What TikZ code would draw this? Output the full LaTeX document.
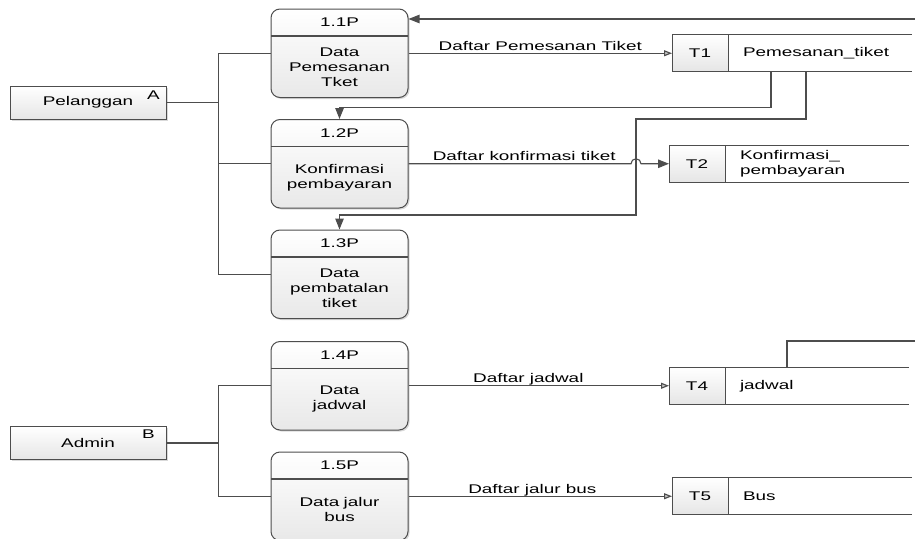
\documentclass[tikz,border=0pt]{standalone}
\usepackage{fontspec}
\setmainfont{Liberation Sans}[FakeStretch=1.5]
\usetikzlibrary{positioning,arrows.meta,fit,backgrounds,shadows,calc}
\definecolor{linegray}{RGB}{77,77,77}

\begin{document}
\begin{tikzpicture}[
        x=1pt, y=-1pt,
        font=\fontsize{12.6}{15}\selectfont,
        line/.style={
            draw=linegray,
            line width=1.1pt,
        },
        flow/.style={
            line,
            -{Triangle[length=8pt,width=6pt,fill=gray!45]},
        },
        data/.style={
            line,
            -{Triangle[length=11pt,width=8.5pt]},
        },
        entity/.style={
            rectangle,
            draw=linegray,
            line width=1pt,
            top color=white,
            bottom color=gray!20,
            minimum width=156pt,
            minimum height=33pt,
            drop shadow={shadow xshift=1.5pt, shadow yshift=-1.5pt, opacity=.3},
        },
        hdr/.style={
            minimum width=137pt,
            minimum height=27pt,
            inner sep=0pt,
            outer sep=0pt,
        },
        body/.style={
            minimum width=137pt,
            minimum height=61.5pt,
            text width=125pt,
            align=center,
            inner sep=0pt,
            outer sep=0pt,
        },
        procbox/.style={
            draw=linegray,
            line width=1pt,
            rounded corners=9pt,
            top color=white,
            bottom color=gray!18,
            inner sep=0pt,
            drop shadow={shadow xshift=1.5pt, shadow yshift=-1.5pt, opacity=.3},
        },
        storeid/.style={
            draw=linegray,
            line width=1pt,
            top color=white,
            bottom color=gray!20,
            minimum width=56pt,
            minimum height=37pt,
            inner sep=0pt,
            outer sep=0pt,
        },
        storename/.style={
            minimum height=37pt,
            text width=154pt,
            inner xsep=15pt,
            inner ysep=0pt,
            align=left,
            outer sep=0pt,
        },
        lbl/.style={
            anchor=base,
            yshift=3pt,
            inner sep=0pt,
        },
        tag/.style={
            inner sep=0pt,
        },
    ]
        \useasboundingbox (0,0) rectangle (915,538);

        % external entities
        \node [entity] (pel) at (88,102.5) {Pelanggan};
        \node [tag] (pelA) at ([xshift=-13pt,yshift=-10pt]pel.north east) {A};
        \node [entity] (adm) at (88,443) {Admin};
        \node [tag] (admB) at ([xshift=-18pt,yshift=-8pt]adm.north east) {B};

        % processes
        \node [hdr] (p11h) at (339.5,22.5) {1.1P};
        \node [body, below=0pt of p11h] (p11b) {Data\\Pemesanan\\Tket};
        \node [hdr, below=22pt of p11b] (p12h) {1.2P};
        \node [body, below=0pt of p12h] (p12b) {Konfirmasi\\pembayaran};
        \node [hdr, below=22pt of p12b] (p13h) {1.3P};
        \node [body, below=0pt of p13h] (p13b) {Data\\pembatalan\\tiket};
        \node [hdr, below=23pt of p13b] (p14h) {1.4P};
        \node [body, below=0pt of p14h] (p14b) {Data\\jadwal};
        \node [hdr, below=22pt of p14b] (p15h) {1.5P};
        \node [body, below=0pt of p15h] (p15b) {Data jalur\\bus};

        \begin{scope}[on background layer]
            \foreach \pid in {p11,p12,p13,p14,p15}
                \node [procbox, fit=(\pid h)(\pid b)] (\pid) {};
        \end{scope}
        \foreach \pid in {p11,p12,p13,p14,p15}
            \draw [line] (\pid h.south west) -- (\pid h.south east);

        % data stores
        \node [storeid, right=263.5pt of p11] (t1) {T1};
        \node [storename, right=0pt of t1] (t1n) {Pemesanan\_tiket};
        \node [storeid, right=260.5pt of p12] (t2) {T2};
        \node [storename, right=0pt of t2] (t2n) {Konfirmasi\_\\pembayaran};
        \node [storeid, right=260.5pt of p14] (t4) {T4};
        \node [storename, right=0pt of t4] (t4n) {jadwal};
        \node [storeid, right=263.5pt of p15] (t5) {T5};
        \node [storename, right=0pt of t5] (t5n) {Bus};
        \foreach \s in {t1n,t2n,t4n,t5n}
            \draw [line] (\s.north west) -- (\s.north east) (\s.south west) -- (\s.south east);

        % entities to processes
        \coordinate (pj) at ($(pel.east)!.5!(pel.east -| p11.west)$);
        \draw [line] (pel.east) -- (pj) |- (p11.west);
        \draw [line] (pj) |- (p12.west);
        \draw [line] (pj) |- (p13.west);
        \coordinate (aj) at ($(adm.east)!.5!(adm.east -| p14.west)$);
        \draw [line] (adm.east) -- (aj) |- (p14.west);
        \draw [line] (aj) |- (p15.west);

        % processes to stores
        \draw [flow] (p11.east) -- node [lbl] {Daftar Pemesanan Tiket} (t1.west);
        \coordinate (k1) at (636,119);
        \coordinate (k2) at (636,215);
        \draw [data] (p12.east) -- node [lbl, pos=.52] {Daftar konfirmasi tiket} ($(k1 |- p12.east)+(-5,0)$)
            arc [start angle=180, end angle=0, radius=5pt] -- (t2.west);
        \draw [flow] (p14.east) -- node [lbl, pos=.46] {Daftar jadwal} (t4.west);
        \draw [flow] (p15.east) -- node [lbl, pos=.47] {Daftar jalur bus} (t5.west);

        % stores back to processes
        \coordinate (t1back) at (915,19);
        \draw [data] (t1back) -- (t1back -| p11.east);
        \draw [data] ([xshift=43pt]t1n.south west) |- ([yshift=11.5pt]p12.north) -- (p12.north);
        \draw [data] ([xshift=78pt]t1n.south west) |- (k1) -- (k2) -| (p13.north);
        \coordinate (t4top) at (915,341);
        \draw [line] ([xshift=62pt]t4n.north west) |- (t4top);
\end{tikzpicture}
\end{document}
